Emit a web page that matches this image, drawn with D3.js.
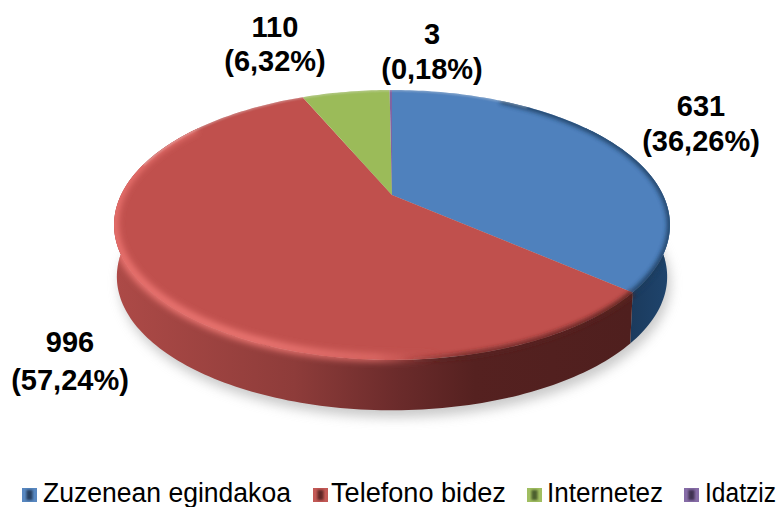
<!DOCTYPE html>
<html><head><meta charset="utf-8">
<script src="https://cdn.jsdelivr.net/npm/d3@7/dist/d3.min.js"></script>
<style>html,body{margin:0;padding:0;background:#fff}svg{display:block}text{font-family:"Liberation Sans",Arial,sans-serif}</style>
</head><body><svg id="c" width="778" height="507"></svg>
<script>
const categories = ["Zuzenean egindakoa","Telefono bidez","Internetez","Idatziz"];
const values = [631,996,110,3];
const percentLabels = ["(36,26%)","(57,24%)","(6,32%)","(0,18%)"];
const colors = ["#4f81bd","#c0504d","#9bbb59","#8064a2"];

const svg = d3.select("#c"), defs = svg.append("defs");
// perspective projection of the pie disc
const cx=392, cy=195, A=271, B=128.3, k=0.222;
const proj=(a,s=1,dy=0)=>{const u=Math.sin(a),v=Math.cos(a),w=1+k*v;return [cx+s*A*u/w, cy+dy+s*B*(-v)/w];};
const BS=0.99, BD=52;
const arcs=d3.pie().sort(null)(values);
const line=d3.line();
const sample=(a0,a1,s,dy)=>{const n=Math.max(2,Math.ceil(Math.abs(a1-a0)/0.02));return d3.range(n+1).map(i=>proj(a0+(a1-a0)*i/n,s,dy));};

const blur=(id,sd)=>defs.append("filter").attr("id",id).attr("x","-20%").attr("y","-20%").attr("width","140%").attr("height","140%").append("feGaussianBlur").attr("stdDeviation",sd);
blur("b6",6); blur("b3",3); blur("b2",2); blur("b1",0.8);
const grad=(id,x1,x2,stops)=>{const g=defs.append("linearGradient").attr("id",id).attr("gradientUnits","userSpaceOnUse").attr("x1",x1).attr("x2",x2).attr("y1",0).attr("y2",0);
  stops.forEach(([o,c,op])=>g.append("stop").attr("offset",o).attr("stop-color",c).attr("stop-opacity",op==null?1:op));};
grad("side0",620,672,[[0,"#1a3859"],[1,"#1f456e"]]);
grad("side1",114,630,[[0,"#ad4a47"],[0.35,"#8e3c3a"],[0.55,"#6b2b2b"],[0.7,"#552120"],[1,"#4f1f1e"]]);
grad("rimLight",114,440,[[0,"#e8716d"],[0.45,"#ea7571"],[0.8,"#e06c68",0.8],[1,"#c0504d",0]]);
grad("rimDark",400,630,[[0,"#5a2220",0],[0.3,"#5a2220",0.7],[1,"#5a2220",0.9]]);

// outline of the whole disc (top face plus wall) bounds the rim shading
const hullD=line(sample(0,2*Math.PI,1,0))+"Z"+line(sample(Math.PI*0.3,Math.PI*1.7,1,0).concat(sample(Math.PI*1.7,Math.PI*0.3,BS,BD)))+"Z";
defs.append("clipPath").attr("id","disc").append("path").attr("d",hullD);

// soft shadow
svg.append("path").attr("d",line(sample(0,2*Math.PI,BS,BD).map(p=>[p[0]+3,p[1]+7]))+"Z").attr("fill","#a5a5a5").attr("opacity",.6).attr("filter","url(#b6)");

// side wall
const lo=Math.PI*0.3, hi=Math.PI*1.7;
arcs.forEach((d,i)=>{
  const a0=Math.max(d.startAngle,lo), a1=Math.min(d.endAngle,hi);
  if(a1<=a0) return;
  const top=sample(a0,a1,1,0), bot=sample(a0,a1,BS,BD).reverse();
  svg.append("path").attr("d",line(top.concat(bot))+"Z").attr("fill",i<2?`url(#side${i})`:colors[i]);
});

// top face slices
const g=svg.append("g");
arcs.forEach((d,i)=>{
  const pts=[[cx,cy]].concat(sample(d.startAngle,d.endAngle,1,0));
  g.append("path").attr("d",line(pts)+"Z").attr("fill",colors[i]);
});
// bevel on the rim
const bevel=svg.append("g").attr("clip-path","url(#disc)");
bevel.append("path").attr("d",line(sample(arcs[1].startAngle+0.02,arcs[1].endAngle-0.55,1,-2))).attr("fill","none").attr("stroke","url(#rimLight)").attr("stroke-width",9).attr("filter","url(#b3)");
bevel.append("path").attr("d",line(sample(arcs[1].startAngle,arcs[1].startAngle+0.9,1,0))).attr("fill","none").attr("stroke","url(#rimDark)").attr("stroke-width",6).attr("filter","url(#b2)");
bevel.append("path").attr("d",line(sample(0.5,arcs[0].endAngle,1,0))).attr("fill","none").attr("stroke","#1f3c5e").attr("stroke-width",6).attr("filter","url(#b2)").attr("opacity",.85);
bevel.append("path").attr("d",line(sample(-Math.PI*0.42,Math.PI*0.2,1,0))).attr("fill","none").attr("stroke","#e6e6e6").attr("stroke-width",2).attr("filter","url(#b1)").attr("opacity",.45);

// data labels
const labelPos=[[701,116,151],[70,352,390],[275,37,71],[432,44,79]];
labelPos.forEach(([x,y1,y2],i)=>{
  const t=svg.append("text").attr("text-anchor","middle").attr("font-weight","bold").attr("font-size",29).attr("fill","#000");
  t.append("tspan").attr("x",x).attr("y",y1).text(values[i]);
  t.append("tspan").attr("x",x).attr("y",y2).text(percentLabels[i]);
});

// legend
const legendX=[[22,43,248],[313,331,175],[527,547,116],[684,705,71]];
const shade=(c,f)=>f>0?d3.interpolateRgb(c,"#fff")(f):d3.interpolateRgb(c,"#000")(-f);
categories.forEach((c,i)=>{
  const [sx,tx,tw]=legendX[i], sy=488, sz=15;
  svg.append("rect").attr("x",sx).attr("y",sy).attr("width",sz).attr("height",sz-1).attr("fill",shade(colors[i],0.05));
  svg.append("rect").attr("x",sx+4.5).attr("y",sy+2).attr("width",sz-9).attr("height",sz-5).attr("fill",shade(colors[i],-0.5)).attr("filter","url(#b1)");
  const t=svg.append("text").attr("font-size",27).attr("fill","#000").text(c);
  const natural=t.node().getComputedTextLength();
  t.attr("transform",`translate(${tx},502) scale(${tw/natural},1)`);
});
</script></body></html>
